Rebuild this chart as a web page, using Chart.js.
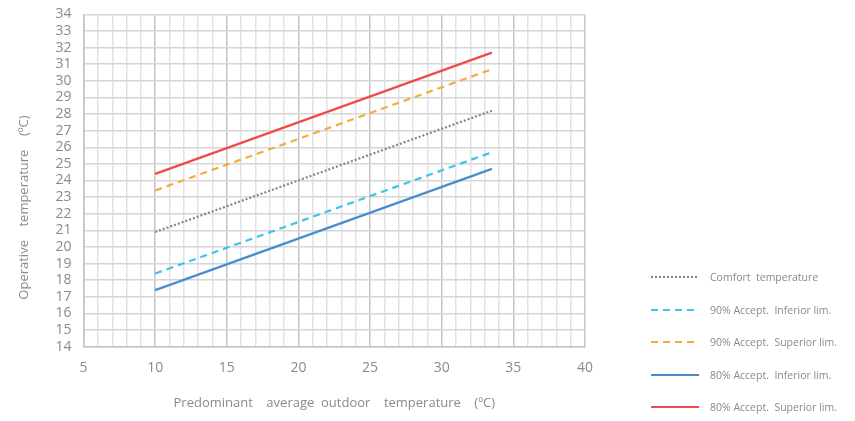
<!DOCTYPE html>
<html>
<head>
<meta charset="utf-8">
<script src="https://cdn.jsdelivr.net/npm/chart.js@4/dist/chart.umd.min.js"></script>
<style>
  html, body { margin:0; padding:0; background:#fff; }
  #wrap { position:relative; width:855px; height:421px; overflow:hidden; }
  #c { position:absolute; left:0; top:-6px; }
  #legend { position:absolute; left:651px; top:261px; font-family:"Open Sans", sans-serif; font-size:10.5px; color:#8a8a8a; }
  .item { display:flex; align-items:center; height:32.5px; }
  .item canvas { margin-right:11px; }
</style>
</head>
<body>
<div id="wrap">
  <canvas id="c" width="855" height="427"></canvas>
  <div id="legend"></div>
</div>
<script>
// data
const xStart = 10, xEnd = 33.5;
const seriesNames = ['Comfort  temperature', '90% Accept.  Inferior lim.', '90% Accept.  Superior lim.', '80% Accept.  Inferior lim.', '80% Accept.  Superior lim.'];
const comfortVals = [20.9, 28.2];
const inf90Vals = [18.4, 25.7];
const sup90Vals = [23.4, 30.7];
const inf80Vals = [17.4, 24.7];
const sup80Vals = [24.4, 31.7];

const colors = ['#858585', '#3cc3ec', '#f4ad3d', '#4a8dcb', '#f04a4a'];
const dashes = [[2,2], [7,5], [7,5], [], []];
const widths = [2.2, 2.2, 2.2, 2.2, 2.2];

const allVals = [comfortVals, inf90Vals, sup90Vals, inf80Vals, sup80Vals];

const datasets = allVals.map((v, i) => ({
    label: seriesNames[i],
    data: [{x:xStart, y:v[0]}, {x:xEnd, y:v[1]}],
    borderColor: colors[i],
    borderDash: dashes[i],
    borderWidth: widths[i],
    pointRadius: 0,
    fill: false
}));

const tickFont = { family:"'Open Sans', sans-serif", size:14 };
const titleFont = { family:"'Open Sans', sans-serif", size:13 };
const txt = '#8a8a8a';

new Chart(document.getElementById('c').getContext('2d'), {
    type: 'line',
    data: { datasets: datasets },
    options: {
        responsive: false,
        animation: false,
        layout: { padding: { top: 0, right: 270, bottom: 6, left: 12 } },
        plugins: { legend: { display:false }, tooltip: { enabled:false } },
        scales: {
            x: {
                type: 'linear', min: 5, max: 40,
                ticks: { stepSize: 1, autoSkip: false, color: txt, font: tickFont, padding: 13, maxRotation: 0,
                    callback: v => (v % 5 === 0 ? v : '') },
                grid: { color: ctx => (ctx.tick && ctx.tick.value % 5 === 0 ? '#c4c4c4' : '#e2e2e2'), lineWidth: 1.5, drawTicks: false },
                border: { color: '#c4c4c4', width: 1.5 },
                title: { display: true, text: 'Predominant    average  outdoor    temperature    (ºC)', color: txt,
                    font: titleFont, padding: { top: 6 } }
            },
            y: {
                min: 14, max: 34,
                ticks: { stepSize: 1, autoSkip: false, color: txt, font: tickFont, padding: 12 },
                grid: { color: '#d6d6d6', lineWidth: 1.5, drawTicks: false },
                border: { color: '#c4c4c4', width: 1.5 },
                title: { display: true, text: 'Operative    temperature    (ºC)                ', color: txt,
                    font: titleFont, padding: { bottom: 12 } }
            }
        }
    }
});

// html legend built from the datasets
const lg = document.getElementById('legend');
datasets.forEach(ds => {
    const row = document.createElement('div');
    row.className = 'item';
    const sw = document.createElement('canvas');
    sw.width = 48; sw.height = 6;
    const g = sw.getContext('2d');
    g.strokeStyle = ds.borderColor;
    g.lineWidth = ds.borderWidth;
    g.setLineDash(ds.borderDash);
    g.beginPath(); g.moveTo(0, 3); g.lineTo(48, 3); g.stroke();
    row.appendChild(sw);
    const sp = document.createElement('span');
    sp.textContent = ds.label;
    sp.style.whiteSpace = 'pre';
    row.appendChild(sp);
    lg.appendChild(row);
});
</script>
</body>
</html>
